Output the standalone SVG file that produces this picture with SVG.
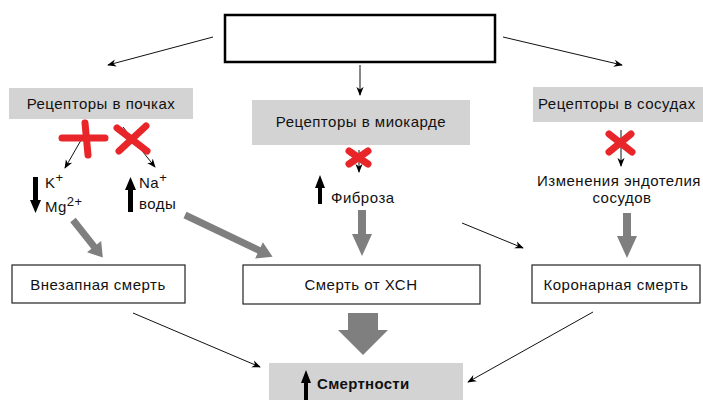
<svg xmlns="http://www.w3.org/2000/svg" width="703" height="400" viewBox="0 0 703 400">
<defs>
<style>
text{font-family:"Liberation Sans",Arial,sans-serif;fill:#111;letter-spacing:0.5px;}
.lbl{font-size:15px;}
.sm{font-size:15px;}
.gbox{fill:#d3d3d3;stroke:none;}
.wbox{fill:#fff;stroke:#222;stroke-width:1.2;}
.thin{stroke:#111;stroke-width:1;fill:none;marker-end:url(#ah);}
.red{stroke:#e8262a;stroke-width:7;stroke-linecap:round;fill:none;}
.gar{fill:#7f7f7f;}
.bar{fill:#000;}
</style>
<marker id="ah" viewBox="0 0 10 10" refX="9" refY="5" markerWidth="9" markerHeight="9" markerUnits="userSpaceOnUse" orient="auto">
<path d="M0,1 L10,5 L0,9 L3,5 z" fill="#000"/>
</marker>
</defs>
<rect width="703" height="400" fill="#fff"/>

<g id="connectors">
<line class="thin" x1="213" y1="37" x2="108" y2="65"/>
<line class="thin" x1="360" y1="65" x2="360" y2="95"/>
<line class="thin" x1="503" y1="37" x2="622" y2="65"/>
<line class="thin" x1="88" y1="128" x2="65" y2="168"/>
<line class="thin" x1="123" y1="127" x2="155" y2="167"/>
<line class="thin" x1="359" y1="150" x2="359" y2="172"/>
<line class="thin" x1="621" y1="130" x2="621" y2="166"/>
<line class="thin" x1="462" y1="223" x2="523" y2="248"/>
<line class="thin" x1="133" y1="313" x2="260" y2="367"/>
<line class="thin" x1="593" y1="312" x2="468" y2="382"/>
<polygon class="gar" transform="translate(73,220) rotate(51.6)" points="0,-3.5 34,-3.5 34,-9 48,0 34,9 34,3.5 0,3.5"/>
<polygon class="gar" transform="translate(185,215) rotate(25.5)" points="0,-3.5 82,-3.5 82,-9 97,0 82,9 82,3.5 0,3.5"/>
<polygon class="gar" points="358,210 366,210 366,234 372,234 362,256 352,234 358,234"/>
<polygon class="gar" points="623,213 631,213 631,236 637,236 627,258 617,236 623,236"/>
<polygon class="gar" points="348,313 378,313 378,330 388,330 363,355 338,330 348,330"/>
</g>

<g id="top-box">
<rect x="225" y="15" width="270" height="47" fill="#fff" stroke="#000" stroke-width="2.5"/>
</g>

<g id="kidney">
<rect class="gbox" x="9" y="88" width="184" height="31"/>
<text class="lbl" x="101" y="109" text-anchor="middle">Рецепторы в почках</text>
<path class="red" d="M62,138 L105,138 M85,123 L88,155"/>
<path class="red" d="M117,128 L147,151 M146,126 L119,151"/>
<polygon class="bar" points="33,177 38,177 38,200 41,200 35.5,213 30,200 33,200"/>
<text class="sm" x="45" y="188">K<tspan dy="-6" font-size="13">+</tspan></text>
<text class="sm" x="45" y="212">Mg<tspan dy="-6" font-size="13">2+</tspan></text>
<polygon class="bar" points="128,212 133,212 133,190 136,190 130.5,177 125,190 128,190"/>
<text class="sm" x="139" y="188">Na<tspan dy="-6" font-size="13">+</tspan></text>
<text class="sm" x="139" y="209">воды</text>
</g>

<g id="myocard">
<rect class="gbox" x="252" y="100" width="218" height="45"/>
<text class="lbl" x="361" y="127" text-anchor="middle">Рецепторы в миокарде</text>
<path class="red" d="M349,151 L368,164 M368,151 L349,164" stroke-width="6"/>
<polygon class="bar" points="318,204 322,204 322,188 325,188 320,175 315,188 318,188"/>
<text class="sm" x="331" y="203">Фиброза</text>
</g>

<g id="vessels">
<rect class="gbox" x="533" y="87" width="170" height="35"/>
<text class="lbl" x="538" y="109">Рецепторы в сосудах</text>
<path class="red" d="M609,134 L632,152 M631,134 L609,152" stroke-width="6"/>
<text class="sm" x="619" y="186" text-anchor="middle">Изменения эндотелия</text>
<text class="sm" x="622" y="203" text-anchor="middle">сосудов</text>
</g>

<g id="sudden">
<rect class="wbox" x="12" y="265" width="173" height="38"/>
<text class="sm" x="98" y="290" text-anchor="middle">Внезапная смерть</text>
</g>

<g id="chf">
<rect class="wbox" x="243" y="265" width="237" height="39"/>
<text class="sm" x="361" y="290" text-anchor="middle">Смерть от ХСН</text>
</g>

<g id="coronary">
<rect class="wbox" x="532" y="265" width="168" height="38"/>
<text class="sm" x="616" y="290" text-anchor="middle">Коронарная смерть</text>
</g>

<g id="mortality">
<rect class="gbox" x="269" y="363" width="194" height="40"/>
<polygon class="bar" points="304,400 308,400 308,383 311,383 306,370 301,383 304,383"/>
<text class="sm" x="317" y="389" font-weight="bold" style="letter-spacing:0.3px">Смертности</text>
</g>
</svg>
